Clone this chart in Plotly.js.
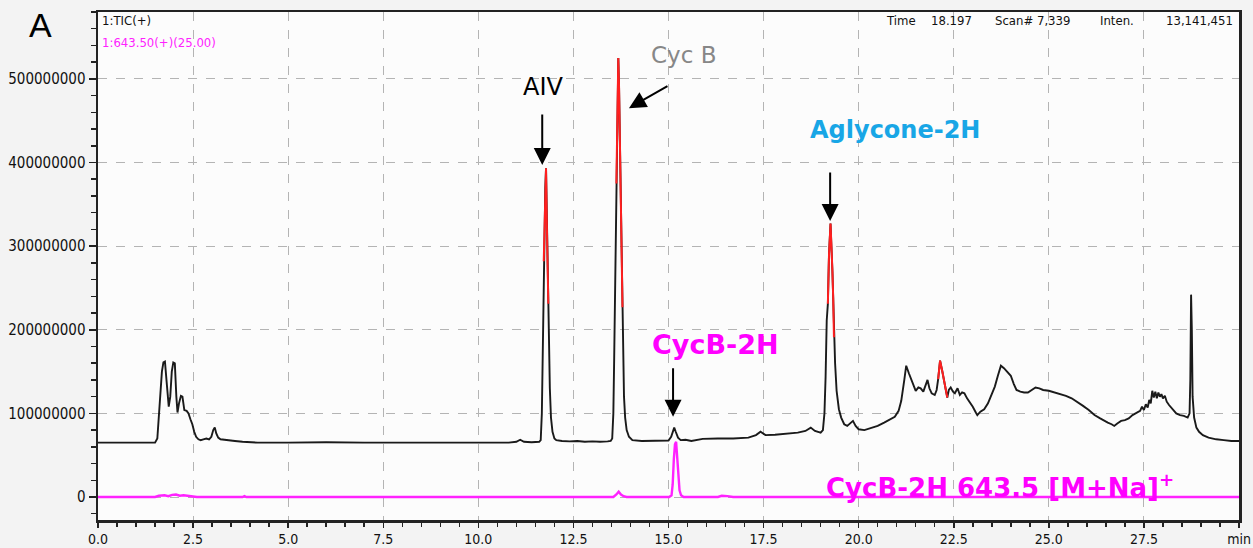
<!DOCTYPE html>
<html>
<head>
<meta charset="utf-8">
<script src="https://cdn.plot.ly/plotly-3.0.1.min.js"></script>
<style>
  html, body { margin: 0; padding: 0; background: #f3f3f3; }
  #chart { width: 1253px; height: 548px; }
</style>
</head>
<body>
<div id="chart"></div>
<script>
// Total ion chromatogram (TIC), retention time in min, intensity in millions of counts
const ticTime = [
  0.00, 0.30, 0.60, 0.90, 1.20, 1.50, 1.56, 1.60, 1.64, 1.68, 1.72, 1.76, 1.80, 1.86, 1.90, 1.94,
  1.98, 2.02, 2.06, 2.09, 2.13, 2.18, 2.22, 2.27, 2.33, 2.38, 2.43, 2.48, 2.53, 2.58, 2.64, 2.70,
  2.77, 2.85, 2.92, 2.98, 3.03, 3.07, 3.11, 3.16, 3.22, 3.35, 3.60, 3.80, 4.20, 5.00, 6.00, 7.00,
  8.00, 9.00, 10.00, 10.80, 11.00, 11.10, 11.20, 11.40, 11.60, 11.64, 11.67, 11.69, 11.71, 11.72,
  11.74, 11.76, 11.78, 11.80, 11.82, 11.84, 11.86, 11.88, 11.91, 11.95, 12.00, 12.05, 12.20, 12.40,
  12.60, 12.80, 13.00, 13.20, 13.40, 13.48, 13.52, 13.55, 13.57, 13.59, 13.61, 13.63, 13.645, 13.66,
  13.68, 13.70, 13.72, 13.745, 13.77, 13.79, 13.81, 13.83, 13.86, 13.90, 13.96, 14.05, 14.30, 14.60,
  14.90, 15.00, 15.07, 15.12, 15.15, 15.19, 15.25, 15.32, 15.45, 15.60, 15.90, 16.30, 16.70, 17.10,
  17.30, 17.42, 17.55, 17.80, 18.10, 18.40, 18.60, 18.74, 18.85, 19.00, 19.06, 19.10, 19.13, 19.16,
  19.19, 19.22, 19.26, 19.29, 19.31, 19.33, 19.35, 19.38, 19.42, 19.48, 19.54, 19.62, 19.70, 19.78,
  19.85, 19.92, 20.00, 20.15, 20.32, 20.50, 20.67, 20.85, 20.95, 21.05, 21.12, 21.20, 21.25, 21.32,
  21.40, 21.50, 21.57, 21.63, 21.70, 21.77, 21.81, 21.86, 21.92, 22.00, 22.05, 22.09, 22.14, 22.20,
  22.27, 22.33, 22.37, 22.42, 22.48, 22.53, 22.60, 22.66, 22.72, 22.78, 22.85, 22.92, 23.00, 23.08,
  23.12, 23.20, 23.30, 23.40, 23.50, 23.58, 23.66, 23.74, 23.82, 23.90, 24.00, 24.08, 24.15, 24.25,
  24.35, 24.45, 24.55, 24.65, 24.75, 24.85, 25.00, 25.15, 25.30, 25.45, 25.60, 25.75, 25.90, 26.05,
  26.20, 26.35, 26.45, 26.55, 26.65, 26.72, 26.80, 26.90, 27.00, 27.10, 27.20, 27.30, 27.40, 27.45,
  27.50, 27.55, 27.60, 27.64, 27.68, 27.72, 27.76, 27.80, 27.84, 27.88, 27.92, 27.96, 28.00, 28.05,
  28.10, 28.16, 28.25, 28.35, 28.45, 28.55, 28.65, 28.70, 28.72, 28.74, 28.76, 28.78, 28.82, 28.88,
  28.95, 29.05, 29.20, 29.40, 29.60, 29.80, 30.00
];
const ticIntensityM = [
  65, 65, 64.5, 65, 65, 65, 70, 95, 130, 150, 161, 162, 140, 108, 120, 150,
  161, 160, 120, 101, 112, 121, 120, 104, 103, 100, 93, 87, 78, 72, 69, 68,
  69, 70, 69, 72, 80, 83, 76, 71, 69, 68, 67, 66, 65, 65, 65.5, 65,
  65, 65, 65, 65, 66, 68.5, 66, 65.5, 66, 68, 100, 160, 230, 282,
  312, 370, 393, 330, 265, 231, 180, 130, 95, 78, 70, 68, 67, 66.5,
  67, 66, 66.5, 66, 66.5, 67, 70, 100, 160, 230, 300, 375, 423, 500,
  525, 490, 431, 350, 265, 227, 170, 120, 95, 80, 72, 68, 67, 67,
  67, 67.5, 72, 80, 83, 78, 71, 68, 68.5, 67, 69.5, 70, 70, 71,
  74, 78, 74, 74.5, 75.5, 77, 79, 83, 79, 77, 80, 100, 143, 211,
  231, 290, 327, 299, 270, 239, 191, 160, 127, 105, 95, 87, 85, 88,
  91, 85, 81, 80, 82, 85, 89, 93, 96, 103, 115, 140, 157, 148,
  138, 127, 131, 130, 126, 134, 140, 130, 124, 122, 128, 141, 163, 150,
  132, 119, 128, 131, 126, 124, 130, 122, 125, 124, 118, 114, 108, 101,
  98, 102, 105, 112, 122, 132, 145, 157, 154, 150, 145, 135, 128, 126,
  125, 125, 128, 131, 130, 128, 127, 125, 123, 121, 118, 114, 109, 104,
  98, 94, 91, 89, 87, 85, 88, 91, 92, 94, 98, 101, 103, 108,
  104, 111, 107, 116, 112, 127, 119, 126, 118, 125, 120, 123, 118, 121,
  114, 110, 105, 100, 98, 97, 95, 100, 140, 242, 200, 120, 95, 83,
  78, 74, 71, 69, 68, 67, 67
];

// Selected peak tops drawn in red (retention-time windows, min)
const highlightStart = [11.72, 13.63, 19.19, 22.09];
const highlightEnd   = [11.84, 13.79, 19.35, 22.33];

// Extracted ion chromatogram, m/z 643.50 (+), intensity in millions of counts
const xicTime = [
  0.00, 1.50, 1.60, 1.75, 1.85, 1.95, 2.05, 2.15, 2.25, 2.35, 2.45, 2.60, 3.80, 3.85, 3.90, 12.00,
  12.05, 12.10, 13.55, 13.63, 13.69, 13.75, 13.82, 13.90, 15.02, 15.08, 15.11, 15.14, 15.17, 15.20,
  15.23, 15.26, 15.29, 15.33, 15.40, 16.30, 16.40, 16.55, 16.70, 30.00
];
const xicIntensityM = [
  0, 0, 1.5, 2, 1, 2.5, 3, 1.5, 2, 1.5, 0.5, 0, 0, 1, 0, 0,
  0.8, 0, 0, 3, 6.4, 3, 1, 0, 0, 2, 15, 45, 63, 66,
  50, 25, 8, 2, 0, 0, 1.5, 1, 0, 0
];

// Axis labels
const xTickVals = [0, 2.5, 5, 7.5, 10, 12.5, 15, 17.5, 20, 22.5, 25, 27.5, 30];
const xTickText = ['0.0', '2.5', '5.0', '7.5', '10.0', '12.5', '15.0', '17.5', '20.0', '22.5', '25.0', '27.5', 'min'];

const toCounts = v => v * 1e6;

const ticY = ticIntensityM.map(toCounts);
const xicY = xicIntensityM.map(toCounts);

const traces = [
  {
    x: xicTime, y: xicY, type: 'scatter', mode: 'lines',
    line: { color: '#ff22ff', width: 2.4 }, hoverinfo: 'x+y', showlegend: false
  },
  {
    x: ticTime, y: ticY, type: 'scatter', mode: 'lines',
    line: { color: '#1a1a1a', width: 1.9 }, hoverinfo: 'x+y', showlegend: false
  }
];

highlightStart.forEach((t0, i) => {
  const t1 = highlightEnd[i];
  const xs = [], ys = [];
  ticTime.forEach((t, j) => {
    if (t >= t0 - 1e-9 && t <= t1 + 1e-9) { xs.push(t); ys.push(ticY[j]); }
  });
  traces.push({
    x: xs, y: ys, type: 'scatter', mode: 'lines',
    line: { color: '#ff1f1f', width: 2 }, hoverinfo: 'x+y', showlegend: false
  });
});

const narrow = 'DejaVu Sans Condensed, Liberation Sans Narrow, sans-serif';
const labelFont = 'DejaVu Sans, Verdana, sans-serif';

function arrow(x, y, ax, ay) {
  return {
    x: x, y: y, xref: 'x', yref: 'y', text: '', showarrow: true,
    ax: ax, ay: ay, arrowhead: 2, arrowsize: 1.7, arrowwidth: 2, arrowcolor: '#000'
  };
}

const annotations = [
  // panel letter
  { xref: 'paper', yref: 'paper', x: -0.05, y: 0.974, text: 'A', showarrow: false,
    xanchor: 'center', yanchor: 'middle', font: { family: 'Liberation Sans, Arial, sans-serif', size: 34, color: '#000' } },
  // header lines
  { xref: 'paper', yref: 'paper', x: 0.002, y: 0.984, text: '1:TIC(+)', showarrow: false,
    xanchor: 'left', yanchor: 'middle', font: { family: narrow, size: 13, color: '#111' } },
  { xref: 'paper', yref: 'paper', x: 0.002, y: 0.940, text: '1:643.50(+)(25.00)', showarrow: false,
    xanchor: 'left', yanchor: 'middle', font: { family: narrow, size: 13, color: '#ff22ff' } },
  { xref: 'paper', yref: 'paper', x: 0.6886, y: 0.984, text: 'Time', showarrow: false,
    xanchor: 'left', yanchor: 'middle', font: { family: narrow, size: 13, color: '#111' } },
  { xref: 'paper', yref: 'paper', x: 0.7675, y: 0.984, text: '18.197', showarrow: false,
    xanchor: 'right', yanchor: 'middle', font: { family: narrow, size: 13, color: '#111' } },
  { xref: 'paper', yref: 'paper', x: 0.7842, y: 0.984, text: 'Scan# 7,339', showarrow: false,
    xanchor: 'left', yanchor: 'middle', font: { family: narrow, size: 13, color: '#111' } },
  { xref: 'paper', yref: 'paper', x: 0.8763, y: 0.984, text: 'Inten.', showarrow: false,
    xanchor: 'left', yanchor: 'middle', font: { family: narrow, size: 13, color: '#111' } },
  { xref: 'paper', yref: 'paper', x: 0.9965, y: 0.984, text: '13,141,451', showarrow: false,
    xanchor: 'right', yanchor: 'middle', font: { family: narrow, size: 13, color: '#111' } },

  // peak labels
  { x: 11.71, y: 4.90e8, text: 'AIV', showarrow: false, xanchor: 'center', yanchor: 'middle',
    font: { family: labelFont, size: 24, color: '#000' } },
  { x: 15.39, y: 5.28e8, text: 'Cyc B', showarrow: false, xanchor: 'center', yanchor: 'middle',
    font: { family: labelFont, size: 23, color: '#878787' } },
  { x: 20.95, y: 4.39e8, text: '<b>Aglycone-2H</b>', showarrow: false, xanchor: 'center', yanchor: 'middle',
    font: { family: labelFont, size: 24, color: '#18a6e6' } },
  { x: 16.24, y: 1.82e8, text: '<b>CycB-2H</b>', showarrow: false, xanchor: 'center', yanchor: 'middle',
    font: { family: labelFont, size: 27, color: '#ff00ff' } },
  { x: 19.08, y: 0.13e8, text: '<b>CycB-2H 643.5 [M+Na]<sup>+</sup></b>', showarrow: false, xanchor: 'left', yanchor: 'middle',
    font: { family: labelFont, size: 26, color: '#ff00ff' } },

  // arrows
  arrow(11.68, 3.97e8, 0, -52),
  arrow(13.96, 4.65e8, 40, -23),
  arrow(19.25, 3.30e8, 0, -50),
  arrow(15.12, 0.96e8, 0, -50)
];

const layout = {
  width: 1253, height: 548,
  margin: { l: 98, r: 14, t: 12, b: 28 },
  paper_bgcolor: '#f3f3f3',
  plot_bgcolor: '#fcfcfc',
  showlegend: false,
  xaxis: {
    range: [0, 30], tickmode: 'array', tickvals: xTickVals, ticktext: xTickText,
    ticks: 'outside', ticklen: 5, tickwidth: 1.5, tickcolor: '#222',
    minor: { tickmode: 'linear', tick0: 0, dtick: 0.5, ticks: 'outside', ticklen: 4, tickcolor: '#222', showgrid: false },
    showgrid: true, gridcolor: '#b4b4b4', griddash: 'dash', gridwidth: 1,
    showline: true, mirror: true, linecolor: '#222', linewidth: 2.5,
    zeroline: false, fixedrange: true, automargin: false,
    tickfont: { family: narrow, size: 14, color: '#111' }
  },
  yaxis: {
    range: [-2.75e7, 5.8e8], tickmode: 'linear', tick0: 0, dtick: 1e8, tickformat: 'd',
    ticks: 'outside', ticklen: 7, tickwidth: 1.5, tickcolor: '#222',
    minor: { tickmode: 'linear', tick0: 0, dtick: 2e7, ticks: 'outside', ticklen: 5, tickcolor: '#222', showgrid: false },
    showgrid: true, gridcolor: '#b4b4b4', griddash: 'dash', gridwidth: 1,
    showline: true, mirror: true, linecolor: '#222', linewidth: 2.5,
    zeroline: false, fixedrange: true, automargin: false,
    tickfont: { family: narrow, size: 15, color: '#111' }
  },
  annotations: annotations
};

Plotly.newPlot('chart', traces, layout, { displayModeBar: false, staticPlot: true });
</script>
</body>
</html>
